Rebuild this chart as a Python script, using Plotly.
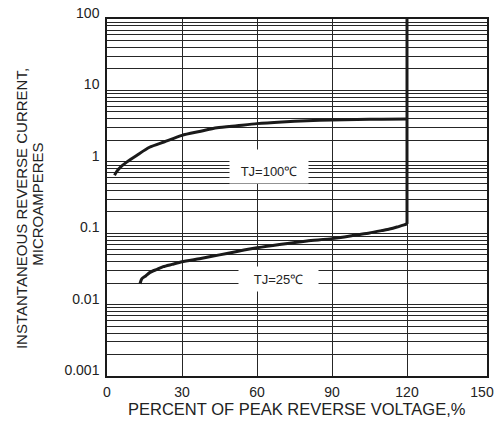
import plotly.graph_objects as go

# ---- data ----
x_100 = [3.0, 4.0, 5.5, 8, 12, 17, 23, 30, 37, 44, 52, 60, 70, 80, 90, 100, 110, 120]
i_100 = [0.65, 0.74, 0.85, 1.0, 1.24, 1.6, 1.91, 2.35, 2.66, 3.0, 3.21, 3.43, 3.62, 3.76, 3.86, 3.92, 3.95, 3.97]

x_25 = [13.2, 13.9, 15.5, 17.2, 20, 22.5, 26, 30, 37, 45, 52, 60, 69, 80, 90, 100, 105, 110, 113, 116, 119.6, 120]
i_25 = [0.0196, 0.023, 0.0252, 0.0283, 0.0312, 0.034, 0.0366, 0.0398, 0.044, 0.0497, 0.0555, 0.0625,
        0.0697, 0.0781, 0.084, 0.095, 0.101, 0.109, 0.1143, 0.122, 0.1337, 0.135]

x_break = [120, 120]
i_break = [0.135, 100]

x_ticks = [0, 30, 60, 90, 120, 150]
x_grid = [30, 60, 90, 120]
y_decades = [0.001, 0.01, 0.1, 1, 10, 100]
y_labels = ["0.001", "0.01", "0.1", "1", "10", "100"]
y_minor = [k * d for d in [0.001, 0.01, 0.1, 1, 10] for k in range(2, 10)]

label_100 = "TJ=100℃"
label_25 = "TJ=25℃"
x_title = "PERCENT OF PEAK REVERSE VOLTAGE,%"
y_title_1 = "INSTANTANEOUS REVERSE CURRENT,"
y_title_2 = "MICROAMPERES"

INK = "#1a1a1a"
GRID = "#262626"
FONT = "Liberation Sans, Arial, sans-serif"

fig = go.Figure()
line = dict(color=INK, width=3)
fig.add_trace(go.Scatter(x=x_100, y=i_100, mode="lines", line=dict(line, shape="spline", smoothing=0.6),
                         hoverinfo="skip", showlegend=False))
fig.add_trace(go.Scatter(x=x_25, y=i_25, mode="lines", line=dict(line, shape="spline", smoothing=0.6),
                         hoverinfo="skip", showlegend=False))
fig.add_trace(go.Scatter(x=x_break, y=i_break, mode="lines", line=line,
                         hoverinfo="skip", showlegend=False))

fig.update_layout(
    width=499, height=422,
    margin=dict(l=107, r=12, t=5, b=46),
    paper_bgcolor="white", plot_bgcolor="white",
    font=dict(family=FONT, size=13, color="#222"),
    xaxis=dict(
        range=[0, 152], tickmode="array", tickvals=x_ticks, ticktext=[str(v) for v in x_ticks],
        showgrid=False, zeroline=False, ticks="", ticklabelstandoff=2,
        showline=True, linecolor=INK, linewidth=1.5, mirror=True,
        tickfont=dict(size=14),
        minor=dict(tickmode="array", tickvals=x_grid, showgrid=True, gridcolor=GRID, gridwidth=1, ticks=""),
    ),
    yaxis=dict(
        type="log", range=[-3, 2.001], tickmode="array", tickvals=y_decades, ticktext=y_labels,
        showgrid=True, gridcolor=GRID, gridwidth=1, zeroline=False, ticks="",
        ticklabelshift=-6, ticklabelstandoff=3, ticklabeloverflow="allow",
        showline=True, linecolor=INK, linewidth=1.5, mirror=True,
        tickfont=dict(size=14),
        minor=dict(tickmode="array", tickvals=y_minor, showgrid=True, gridcolor=GRID, gridwidth=1, ticks=""),
    ),
    annotations=[
        dict(x=64.8, y=-0.07, xref="x", yref="y", text=label_100, showarrow=False,
             font=dict(size=13, color="#222"), bgcolor="white", borderpad=4,
             width=70, height=25, valign="bottom"),
        dict(x=68.6, y=-1.639, xref="x", yref="y", text=label_25, showarrow=False,
             font=dict(size=13, color="#222"), bgcolor="white", borderpad=4,
             width=71, height=16),
        dict(x=0.5, y=-0.0916, xref="paper", yref="paper", text=x_title, showarrow=False,
             xanchor="center", yanchor="middle", font=dict(size=16.5, color="#222")),
        dict(x=(21 - 107) / 380, y=(376 - 202.5) / 371, xref="paper", yref="paper", text=y_title_1,
             showarrow=False, textangle=-90, xanchor="center", yanchor="middle",
             font=dict(size=15, color="#222")),
        dict(x=(37.5 - 107) / 380, y=(376 - 197.5) / 371, xref="paper", yref="paper", text=y_title_2,
             showarrow=False, textangle=-90, xanchor="center", yanchor="middle",
             font=dict(size=15, color="#222")),
    ],
)

fig.write_html("out.html", config={"displayModeBar": False},
               post_script="document.body.style.margin='0';document.body.style.overflow='hidden';")
